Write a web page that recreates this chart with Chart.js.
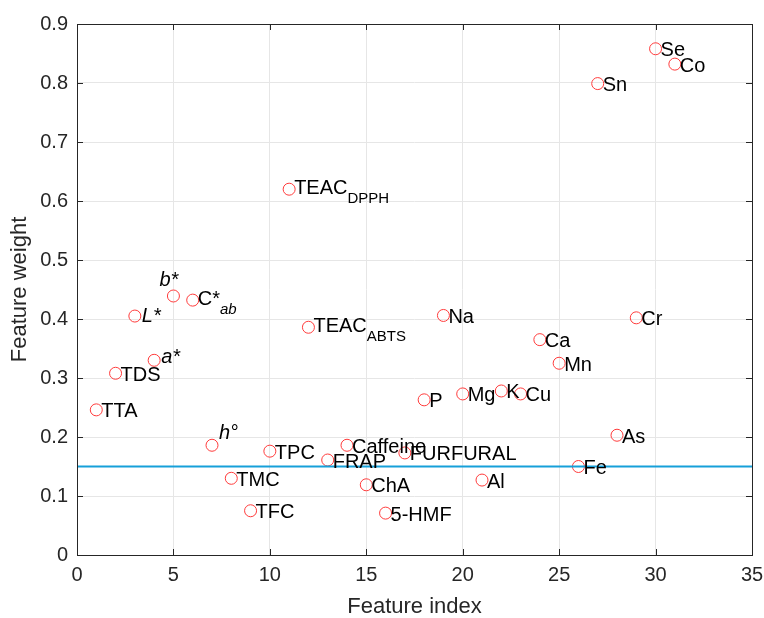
<!DOCTYPE html>
<html>
<head>
<meta charset="utf-8">
<script src="https://cdn.jsdelivr.net/npm/chart.js@4"></script>
<style>
  html, body { margin: 0; padding: 0; background: #fff; }
  #wrap { width: 764px; height: 618px; }
</style>
</head>
<body>
<div id="wrap"><canvas id="weightChart"></canvas></div>
<script>
// Feature weights, one per feature index (1..31)
const featureIndex = [1, 2, 3, 4, 5, 6, 7, 8, 9, 10, 11, 12, 13, 14, 15, 16,
                      17, 18, 19, 20, 21, 22, 23, 24, 25, 26, 27, 28, 29, 30, 31];
const featureWeight = [0.246, 0.308, 0.405, 0.330, 0.439, 0.432, 0.186, 0.130,
                       0.075, 0.176, 0.620, 0.386, 0.161, 0.186, 0.119, 0.071,
                       0.173, 0.263, 0.406, 0.273, 0.127, 0.278, 0.273, 0.365,
                       0.325, 0.150, 0.799, 0.203, 0.402, 0.858, 0.832];
// TeX-like names: \it = italic, _{..} = subscript
const featureName = ['TTA', 'TDS', '\\itL*', '\\ita*', '\\itb*', 'C*_{\\itab}', '\\ith\u00b0',
                     'TMC', 'TFC', 'TPC', 'TEAC_{DPPH}', 'TEAC_{ABTS}', 'FRAP', 'Caffeine',
                     'ChA', '5-HMF', 'FURFURAL', 'P', 'Na', 'Mg', 'Al', 'K', 'Cu', 'Ca',
                     'Mn', 'Fe', 'Sn', 'As', 'Cr', 'Se', 'Co'];
const threshold = 0.15;
const xTicks = [0, 5, 10, 15, 20, 25, 30, 35];
const yTicks = [0, 0.1, 0.2, 0.3, 0.4, 0.5, 0.6, 0.7, 0.8, 0.9];
const yTickLabels = ['0', '0.1', '0.2', '0.3', '0.4', '0.5', '0.6', '0.7', '0.8', '0.9'];

const FONT = '"Liberation Sans", Arial, Helvetica, sans-serif';
const axisColor = '#262626';

// split a TeX-like string into runs
function parseTex(str) {
    const runs = [];
    let italic = false, sub = false, saved = false;
    let i = 0;
    while (i < str.length) {
        if (str.startsWith('\\it', i)) { italic = true; i += 3; continue; }
        if (str.startsWith('\\rm', i)) { italic = false; i += 3; continue; }
        if (str.startsWith('_{', i)) { sub = true; saved = italic; i += 2; continue; }
        if (str[i] === '}' && sub) { sub = false; italic = saved; i++; continue; }
        const last = runs[runs.length - 1];
        if (last && last.italic === italic && last.sub === sub) last.text += str[i];
        else runs.push({ text: str[i], italic: italic, sub: sub });
        i++;
    }
    return runs;
}

// a few labels sit above / beside their marker
const nudge = { 3: [7, 0], 4: [7, -3], 5: [-14, -16], 7: [7, -12] };

const pointLabelPlugin = {
    id: 'pointLabels',
    afterDatasetsDraw(chart) {
        const ctx = chart.ctx;
        const meta = chart.getDatasetMeta(0);
        ctx.save();
        ctx.fillStyle = '#000';
        ctx.textBaseline = 'middle';
        ctx.textAlign = 'left';
        meta.data.forEach((pt, i) => {
            const runs = parseTex(featureName[i]);
            const hasSub = runs.some(r => r.sub);
            const n = nudge[featureIndex[i]] || [5, 2];
            let x = pt.x + n[0];
            const y = pt.y + n[1] - (hasSub ? 3 : 0);
            runs.forEach(r => {
                const size = r.sub ? 15 : 20;
                ctx.font = (r.italic ? 'italic ' : '') + size + 'px ' + FONT;
                ctx.fillText(r.text, x, r.sub ? y + 11 : y);
                x += ctx.measureText(r.text).width;
            });
        });
        ctx.restore();
    }
};

// MATLAB-like box with inward ticks on all sides
const boxPlugin = {
    id: 'box',
    afterDraw(chart) {
        const { ctx, chartArea: a, scales } = chart;
        ctx.save();
        ctx.strokeStyle = axisColor;
        ctx.lineWidth = 1;
        ctx.strokeRect(Math.round(a.left) + 0.5, Math.round(a.top) + 0.5,
                       Math.round(a.right - a.left), Math.round(a.bottom - a.top));
        const len = 6;
        ctx.beginPath();
        xTicks.forEach(v => {
            const px = Math.round(scales.x.getPixelForValue(v)) + 0.5;
            ctx.moveTo(px, a.bottom); ctx.lineTo(px, a.bottom - len);
            ctx.moveTo(px, a.top); ctx.lineTo(px, a.top + len);
        });
        yTicks.forEach(v => {
            const py = Math.round(scales.y.getPixelForValue(v)) + 0.5;
            ctx.moveTo(a.left, py); ctx.lineTo(a.left + len, py);
            ctx.moveTo(a.right, py); ctx.lineTo(a.right - len, py);
        });
        ctx.stroke();
        ctx.restore();
    }
};

function createFeatureWeightChart() {
    const ctx = document.getElementById('weightChart');
    const points = featureIndex.map((x, i) => ({ x: x, y: featureWeight[i] }));

    new Chart(ctx, {
        type: 'scatter',
        data: {
            datasets: [{
                label: 'Feature weight',
                data: points,
                pointStyle: 'circle',
                pointRadius: 6,
                pointBorderWidth: 1,
                pointBorderColor: '#ff3b3b',
                pointBackgroundColor: 'rgba(0,0,0,0)',
                showLine: false,
                order: 1
            }, {
                label: 'Threshold',
                type: 'line',
                data: [{ x: xTicks[0], y: threshold }, { x: xTicks[xTicks.length - 1], y: threshold }],
                borderColor: '#16a0d9',
                borderWidth: 2,
                pointRadius: 0,
                order: 0
            }]
        },
        options: {
            responsive: true,
            maintainAspectRatio: false,
            animation: false,
            layout: { padding: { top: 24, right: 12, left: 0, bottom: 0 } },
            plugins: {
                legend: { display: false },
                tooltip: { enabled: false }
            },
            scales: {
                x: {
                    type: 'linear',
                    min: 0,
                    max: 35,
                    afterBuildTicks: s => { s.ticks = xTicks.map(v => ({ value: v })); },
                    afterFit: s => { s.height = 63; s.paddingLeft = 0; s.paddingRight = 0; },
                    grid: { color: '#e6e6e6', drawTicks: false },
                    border: { display: false },
                    ticks: {
                        color: axisColor,
                        padding: 8,
                        maxRotation: 0,
                        font: { family: FONT, size: 20 }
                    },
                    title: {
                        display: true,
                        text: 'Feature index',
                        color: axisColor,
                        padding: 0,
                        font: { family: FONT, size: 22, lineHeight: 1 }
                    }
                },
                y: {
                    type: 'linear',
                    min: 0,
                    max: 0.9,
                    afterBuildTicks: s => { s.ticks = yTicks.map(v => ({ value: v })); },
                    afterFit: s => { s.width = 77; s.paddingTop = 0; s.paddingBottom = 0; },
                    grid: { color: '#e6e6e6', drawTicks: false },
                    border: { display: false },
                    ticks: {
                        color: axisColor,
                        padding: 9,
                        font: { family: FONT, size: 20 },
                        callback: function(value, index) {
                            return yTickLabels[index];
                        }
                    },
                    title: {
                        display: true,
                        text: 'Feature weight',
                        color: axisColor,
                        padding: { top: 9, bottom: 0 },
                        font: { family: FONT, size: 22, lineHeight: 1 }
                    }
                }
            }
        },
        plugins: [pointLabelPlugin, boxPlugin]
    });
}

createFeatureWeightChart();
</script>
</body>
</html>
